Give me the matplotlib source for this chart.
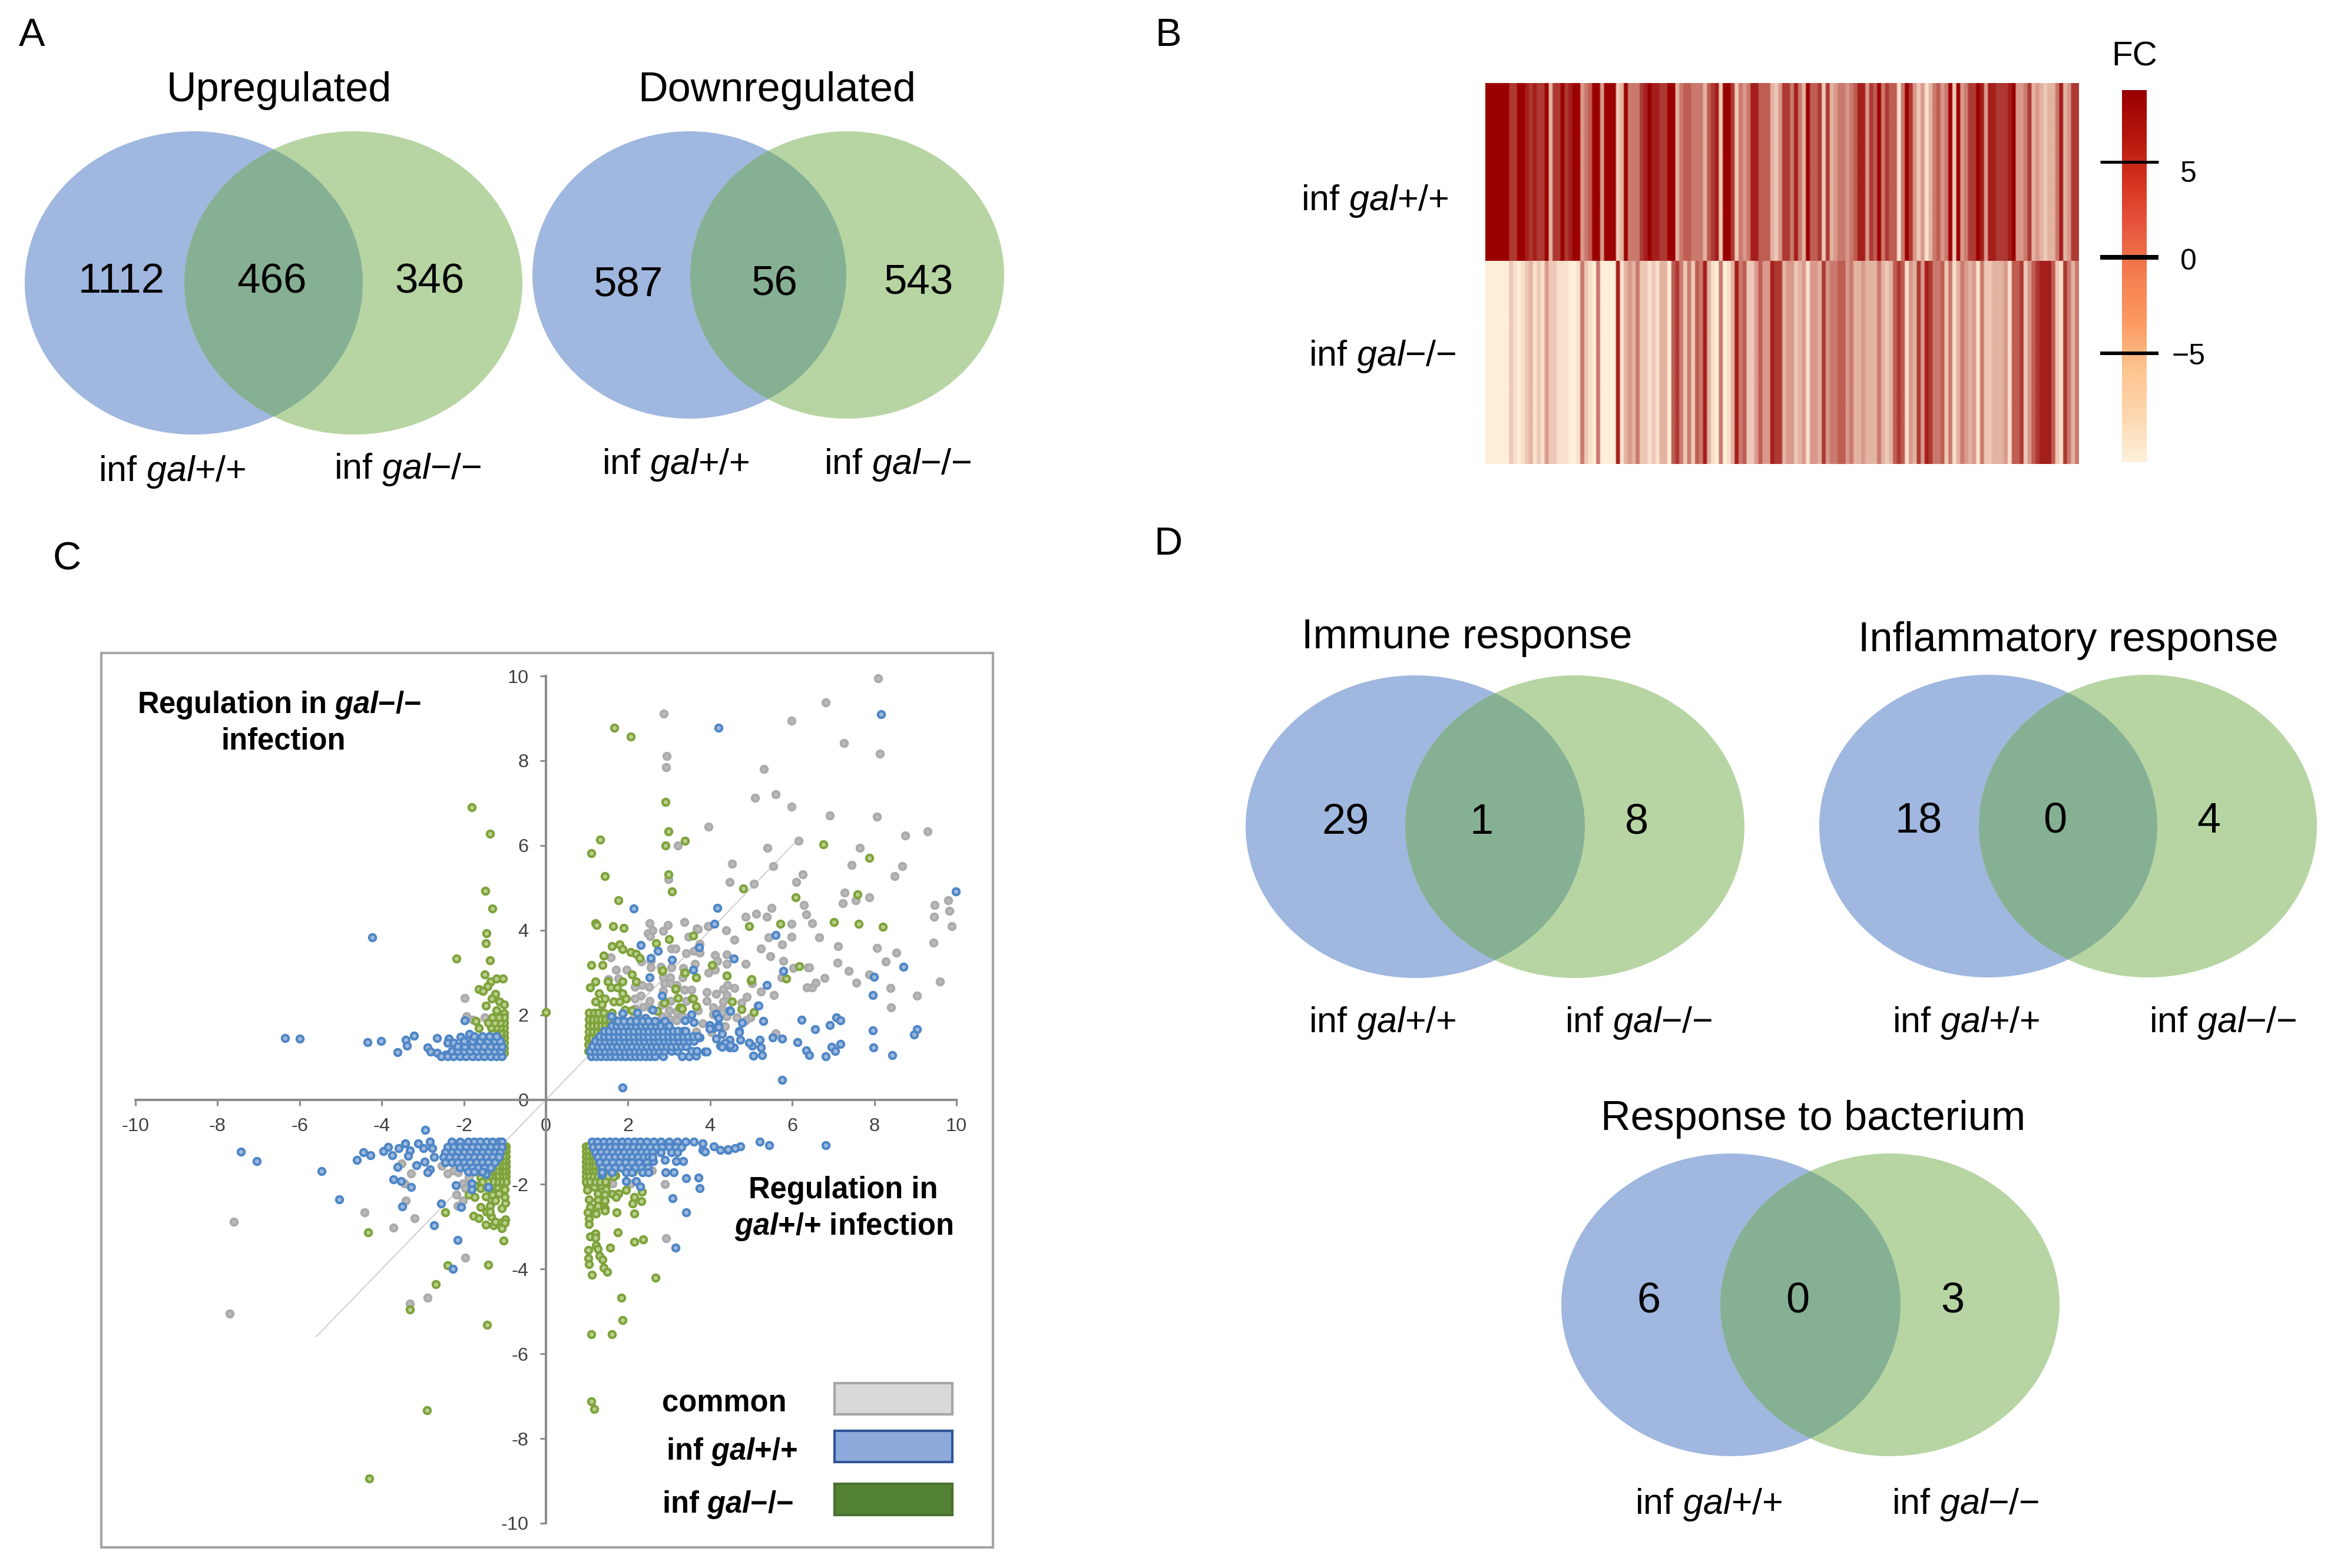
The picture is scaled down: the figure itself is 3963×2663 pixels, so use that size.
"""
four panel figure: venn diagrams, fold change heatmap and regulation scatter
"""

import numpy as np
import matplotlib
matplotlib.use("Agg")
import matplotlib.pyplot as plt
from matplotlib.colors import LinearSegmentedColormap
from matplotlib.patches import Ellipse, Rectangle

W, H = 3963, 2663
plt.rcParams["font.family"] = ["Liberation Sans", "DejaVu Sans"]
plt.rcParams["mathtext.fontset"] = "custom"
plt.rcParams["mathtext.rm"] = "Liberation Sans"
plt.rcParams["mathtext.it"] = "Liberation Sans:italic"
plt.rcParams["mathtext.bf"] = "Liberation Sans:bold"
plt.rcParams["mathtext.bfit"] = "Liberation Sans:italic:bold"

LABEL_WT = "inf $\\mathit{gal}$+/+"
LABEL_KO = "inf $\\mathit{gal}$\u2212/\u2212"
TEXT_DY = 5

# venn counts: only left, both, only right
up_counts = ["1112", "466", "346"]
down_counts = ["587", "56", "543"]
immune_counts = ["29", "1", "8"]
inflam_counts = ["18", "0", "4"]
bact_counts = ["6", "0", "3"]

# heatmap shade levels per gene, 0 palest to 9 darkest
heat_wt = [9, 9, 9, 9, 9, 9, 7, 7, 9, 9, 8, 7, 8, 7, 7, 9, 3, 7, 7, 9, 7, 8, 9, 9, 4, 5, 6, 9, 9, 4,
           9, 9, 9, 2, 3, 9, 5, 5, 5, 7, 8, 9, 8, 8, 7, 7, 9, 9, 3, 5, 6, 6, 5, 5, 5, 3, 6, 7, 8, 2,
           9, 9, 7, 2, 5, 4, 5, 8, 8, 6, 6, 6, 3, 2, 4, 7, 7, 5, 8, 5, 3, 9, 6, 6, 7, 2, 7, 3, 4, 5,
           5, 4, 5, 6, 8, 8, 4, 7, 6, 9, 5, 7, 6, 6, 1, 5, 9, 7, 4, 2, 4, 1, 3, 5, 6, 4, 5, 9, 2, 9,
           4, 5, 7, 7, 9, 8, 4, 8, 8, 7, 7, 7, 8, 9, 4, 4, 5, 7, 3, 4, 3, 2, 3, 3, 5, 8, 3, 4, 7, 7]
heat_ko = [0, 0, 0, 0, 0, 0, 2, 1, 0, 1, 2, 3, 1, 2, 1, 4, 2, 2, 1, 1, 1, 0, 0, 1, 5, 2, 1, 0, 5, 0,
           0, 0, 0, 8, 1, 3, 4, 3, 5, 2, 2, 1, 2, 1, 3, 3, 0, 6, 7, 5, 2, 5, 2, 6, 5, 8, 3, 1, 0, 5,
           0, 1, 3, 8, 5, 6, 2, 2, 4, 6, 4, 4, 8, 7, 7, 3, 4, 4, 2, 3, 4, 1, 4, 4, 3, 7, 4, 5, 5, 6,
           6, 4, 5, 3, 3, 4, 3, 3, 3, 5, 3, 2, 3, 6, 7, 6, 1, 4, 3, 7, 4, 8, 7, 5, 5, 6, 2, 5, 1, 3,
           5, 4, 3, 4, 1, 5, 2, 2, 3, 3, 3, 4, 1, 6, 6, 7, 2, 4, 6, 7, 8, 8, 8, 6, 2, 1, 7, 5, 3, 5]
heat_shades = ["#FEEFD9", "#F8E0CC", "#EDC8B7", "#E3B3A2", "#D9988B",
               "#CB7A6E", "#BF5D52", "#AE3A33", "#A51F1C", "#9B0000"]
fc_shades = ["#FEF0DC", "#FDD8AE", "#FDC48F", "#FC9A62", "#F57F50",
             "#E85A3F", "#D7341F", "#B5170E", "#990000"]
fc_ticks = [5, 0, -5]
fc_tick_labels = ["5", "0", "\u22125"]

# scatter, regulation in gal+/+ (first) and gal-/- (second)
gray_pts = [(8.09, 9.95), (6.82, 9.37), (2.87, 9.11), (5.98, 8.94), (7.26, 8.42), (2.94, 8.11), (8.13, 8.17),
            (2.93, 7.85), (5.31, 7.80), (5.09, 7.12), (5.59, 7.21), (5.98, 6.92), (8.06, 6.68), (6.92, 6.70),
            (3.96, 6.44), (9.29, 6.33), (8.75, 6.23), (6.16, 6.11), (3.22, 6.00), (5.40, 5.94), (7.65, 5.94),
            (4.54, 5.57), (5.54, 5.51), (7.45, 5.54), (8.68, 5.51), (8.50, 5.27), (6.26, 5.31), (6.10, 5.13),
            (4.48, 5.13), (5.06, 5.10), (2.98, 5.20), (7.27, 4.88), (5.49, 4.52), (6.28, 4.60), (7.23, 4.64),
            (7.55, 4.71), (7.87, 4.77), (9.47, 4.60), (9.80, 4.70), (9.83, 4.45), (5.12, 4.38), (4.87, 4.31),
            (5.38, 4.31), (6.34, 4.37), (6.48, 4.16), (5.98, 4.15), (9.45, 4.31), (9.89, 4.09), (2.53, 4.16),
            (2.97, 4.12), (3.37, 4.19), (3.94, 4.10), (3.67, 4.04), (4.39, 3.99), (4.59, 3.77), (5.43, 3.83),
            (5.24, 3.57), (6.66, 3.83), (5.98, 3.84), (9.44, 3.70), (7.11, 3.62), (5.47, 3.39), (5.75, 3.66),
            (8.06, 3.58), (8.54, 3.47), (8.28, 3.26), (4.87, 3.21), (5.78, 3.28), (7.10, 3.23), (7.37, 3.04),
            (6.39, 3.12), (7.56, 2.76), (6.79, 2.87), (6.48, 2.65), (6.36, 2.65), (8.40, 2.64), (6.57, 2.76),
            (7.87, 2.96), (9.04, 2.46), (9.60, 2.79), (8.41, 2.17),
            (2.85, 3.98), (2.48, 3.93), (2.59, 3.99), (2.54, 3.86), (3.70, 4.02), (3.47, 3.84), (3.96, 4.09),
            (3.74, 3.68), (3.06, 3.57), (3.16, 3.57), (3.41, 3.45), (3.60, 3.51), (3.74, 3.47), (4.12, 3.41),
            (4.41, 3.43), (4.41, 3.21), (4.18, 3.27), (4.12, 3.07), (3.96, 2.99), (3.63, 3.21), (3.35, 3.11),
            (3.05, 3.12), (2.80, 3.14), (2.55, 3.28), (2.56, 3.12), (2.33, 3.26), (1.58, 3.36), (1.71, 3.07),
            (1.96, 3.07), (1.52, 2.84), (1.76, 2.86), (2.16, 2.66), (2.34, 2.70), (2.51, 2.66), (2.86, 2.89),
            (3.03, 2.89), (3.33, 2.89), (3.66, 2.89), (2.89, 2.75), (3.04, 2.75), (3.19, 2.70), (2.86, 2.56),
            (3.37, 2.59), (3.55, 2.59), (3.92, 2.54), (4.15, 2.49), (4.32, 2.61), (4.42, 2.70), (4.59, 2.64),
            (4.40, 2.47), (3.92, 2.33), (4.32, 2.31), (4.07, 2.18), (4.29, 2.15), (2.31, 2.45), (2.16, 2.38),
            (2.53, 2.33), (2.16, 2.15), (2.37, 2.19), (2.56, 2.15), (2.82, 2.24), (3.04, 2.33), (3.41, 2.33),
            (3.00, 2.10), (3.19, 2.08), (2.82, 1.96), (3.00, 1.91), (3.19, 1.91), (2.23, 2.03), (2.12, 1.91),
            (3.33, 1.96), (3.70, 2.10), (4.07, 2.01), (4.29, 2.05), (4.40, 1.96), (4.65, 1.94), (4.89, 2.43),
            (4.76, 2.28), (4.98, 1.94), (4.87, 1.87), (5.24, 2.55), (5.55, 2.47), (5.74, 2.88), (5.02, 2.75),
            (6.03, 3.11), (6.41, 3.12), (5.59, 1.57), (4.36, 1.73), (3.81, 1.80), (3.66, 1.61), (4.03, 1.59),
            (2.97, 1.78), (3.19, 1.87), (2.34, 1.91),
            (-1.98, 2.40), (-1.93, 1.96), (-1.49, 1.94), (-1.78, 1.89),
            (-7.61, -2.89), (-7.71, -5.05), (-3.32, -4.81), (-2.88, -4.67), (-1.96, -3.73), (-3.72, -3.02),
            (-3.20, -2.80), (-4.42, -2.66), (-3.42, -2.39), (-3.51, -1.51), (-3.29, -1.75), (-2.39, -1.74),
            (-2.54, -1.56), (-2.25, -1.68), (-2.14, -1.72), (-1.88, -1.84), (-2.03, -1.98), (-1.97, -2.09),
            (-2.18, -2.25), (-2.03, -2.39), (-2.15, -2.51), (-3.45, -1.98),
            (2.58, -1.68), (1.62, -1.98), (2.06, -1.98), (2.90, -1.99), (2.92, -3.27)]

green_pts = [(0.0, 2.07), (1.67, 8.78), (2.06, 8.57), (2.91, 7.02), (2.98, 6.33), (2.91, 6.00), (3.38, 6.11),
             (1.32, 6.14), (1.10, 5.81), (1.43, 5.28), (2.98, 5.32), (3.07, 4.91), (1.76, 4.71), (4.80, 4.98),
             (6.76, 6.03), (7.87, 5.71), (6.09, 4.77), (7.59, 4.84), (7.62, 4.15), (7.02, 4.19), (8.21, 4.08),
             (5.71, 4.15), (4.95, 4.10), (1.21, 4.16), (1.24, 4.12), (1.64, 4.10), (1.89, 4.05), (3.58, 3.87),
             (3.00, 3.79), (2.69, 3.69), (1.80, 3.66), (1.87, 3.55), (1.61, 3.62), (1.40, 3.40), (1.11, 3.18),
             (1.38, 3.18), (2.06, 3.48), (2.19, 3.44), (2.28, 3.34), (2.09, 2.96), (2.82, 3.04), (3.37, 3.00),
             (3.66, 2.89), (4.04, 3.18), (4.40, 2.93), (4.99, 2.82), (5.85, 2.86), (6.17, 3.15), (2.19, 2.79),
             (3.16, 2.61), (3.56, 2.38), (4.54, 2.31), (4.77, 2.13), (5.06, 2.06), (2.90, 2.31), (3.26, 2.17),
             (3.66, 2.20), (1.21, 2.79), (1.07, 2.65), (1.50, 2.79), (1.58, 2.65), (1.73, 2.65), (1.87, 2.79),
             (1.29, 2.51), (1.43, 2.38), (1.21, 2.31), (1.36, 2.24), (1.65, 2.31), (1.80, 2.31), (1.95, 2.38),
             (1.87, 2.51), (2.09, 2.10), (1.92, 2.12), (2.71, 2.09), (3.31, 2.15), (2.89, 2.29), (3.21, 2.40),
             (3.59, 2.38), (3.16, 2.62), (2.84, 3.05), (3.38, 2.99), (4.41, 2.93), (5.01, 2.84),
             (-1.81, 6.90), (-1.36, 6.27), (-1.48, 4.93), (-1.30, 4.51), (-1.45, 3.93), (-1.46, 3.69),
             (-1.36, 3.29), (-2.18, 3.33), (-1.49, 2.96), (-1.35, 2.79), (-1.42, 2.68), (-1.64, 2.61),
             (-1.54, 2.56), (-1.20, 2.86), (-1.05, 2.86), (-1.23, 2.49), (-1.32, 2.38), (-1.13, 2.31),
             (-1.02, 2.24), (-1.46, 2.21), (-1.20, 2.10), (-1.02, 2.03), (-1.32, 1.82), (-1.71, 1.85),
             (-1.64, 1.69), (-1.20, 1.89),
             (-1.77, -2.74), (-1.64, -2.80), (-1.47, -2.95), (-1.28, -2.97), (-1.08, -2.90), (-0.99, -2.83),
             (-1.01, -2.91), (-1.08, -3.04), (-1.04, -3.33), (-1.34, -2.76), (-1.24, -2.88), (-1.59, -2.53),
             (-1.45, -2.65), (-1.37, -2.51), (-1.34, -2.35), (-1.47, -2.28), (-1.08, -2.56), (-0.99, -2.44),
             (-1.88, -2.25), (-1.74, -2.30), (-2.45, -2.66), (-4.33, -3.14), (-2.39, -3.91), (-1.41, -3.90),
             (-2.69, -4.36), (-3.32, -4.95), (-1.43, -5.32), (-2.90, -7.33), (-4.30, -8.94), (-1.55, -1.93),
             (-1.74, -2.02), (-1.59, -2.09), (-1.37, -2.11), (-1.19, -2.07), (-1.01, -2.12), (-1.15, -2.21),
             (-1.30, -2.25), (-1.45, -2.07), (-1.59, -1.84), (-1.30, -2.02), (-1.08, -1.98), (-1.01, -2.30),
             (-1.23, -2.39), (-1.37, -2.65),
             (1.07, -1.88), (1.47, -1.98), (1.00, -2.00), (1.18, -2.07), (1.33, -2.02), (1.47, -2.12),
             (1.00, -2.14), (1.26, -2.21), (1.44, -2.25), (1.62, -2.23), (1.77, -2.21), (1.95, -2.14),
             (1.71, -2.30), (1.05, -2.35), (1.26, -2.37), (1.44, -2.39), (1.07, -2.53), (1.26, -2.51),
             (1.44, -2.56), (1.44, -2.62), (1.02, -2.66), (1.22, -2.69), (1.72, -2.66), (2.15, -2.69),
             (2.34, -2.17), (2.15, -2.30), (2.33, -2.40), (2.11, -2.45), (1.05, -2.81), (1.05, -2.94),
             (1.07, -3.23), (1.20, -3.16), (1.20, -3.26), (1.75, -3.13), (2.15, -3.36), (2.37, -3.30),
             (1.04, -3.55), (1.22, -3.44), (1.26, -3.53), (1.56, -3.50), (1.04, -3.75), (1.31, -3.69),
             (1.38, -3.77), (1.05, -3.88), (1.40, -3.97), (1.49, -4.07), (1.12, -4.13), (2.67, -4.20),
             (1.69, -1.79), (2.13, -1.70), (2.50, -1.70), (1.84, -4.67), (1.87, -5.20), (1.11, -5.54),
             (1.61, -5.54), (1.11, -7.12), (1.17, -7.31)]

# dense corners of the green series, y value: x values
green_q1 = {1.15: [1.03, 1.10], 1.30: [1.03, 1.12, 1.22], 1.45: [1.03, 1.12, 1.22, 1.32],
            1.60: [1.05, 1.15, 1.25, 1.35, 1.45], 1.75: [1.05, 1.15, 1.25, 1.35, 1.45, 1.55],
            1.90: [1.05, 1.15, 1.25, 1.35, 1.45, 1.55, 1.65], 2.05: [1.05, 1.18, 1.28, 1.40, 1.60]}
green_q2 = {1.10: [-1.02, -1.10], 1.22: [-1.02, -1.10, -1.18], 1.34: [-1.02, -1.10, -1.20],
            1.46: [-1.02, -1.10, -1.20, -1.30], 1.58: [-1.02, -1.10, -1.20, -1.30],
            1.70: [-1.02, -1.12, -1.22, -1.34], 1.82: [-1.02, -1.12, -1.25, -1.40], 1.94: [-1.02, -1.15, -1.30]}
green_q3 = {-1.10: [-0.97, -1.03], -1.22: [-0.97, -1.05, -1.13], -1.34: [-0.97, -1.05, -1.13],
            -1.46: [-0.97, -1.05, -1.13, -1.21], -1.58: [-0.97, -1.05, -1.13, -1.21, -1.30],
            -1.70: [-0.97, -1.05, -1.13, -1.21, -1.30, -1.38],
            -1.82: [-0.97, -1.05, -1.13, -1.21, -1.30, -1.38, -1.46],
            -1.94: [-0.97, -1.10, -1.20, -1.30, -1.42, -1.55]}
green_q4 = {-1.10: [0.97, 1.05], -1.22: [0.97, 1.05, 1.13], -1.34: [0.97, 1.05, 1.13, 1.20],
            -1.46: [0.97, 1.05, 1.13, 1.21, 1.29], -1.58: [0.97, 1.05, 1.13, 1.21, 1.29, 1.37],
            -1.70: [0.97, 1.05, 1.13, 1.21, 1.29, 1.37], -1.82: [0.97, 1.06, 1.16, 1.26, 1.36, 1.50, 1.65],
            -1.94: [0.97, 1.08, 1.20, 1.32, 1.45]}

blue_pts = [(8.16, 9.09), (4.21, 8.78), (2.14, 4.51), (4.17, 4.53), (4.10, 4.15), (9.98, 4.91), (5.60, 3.88),
            (3.73, 3.59), (2.31, 3.65), (2.72, 3.51), (2.56, 3.34), (3.07, 3.30), (4.58, 3.33), (3.58, 3.07),
            (5.78, 3.03), (7.99, 2.90), (8.71, 3.14), (2.53, 2.89), (5.38, 2.70), (7.96, 2.47), (5.16, 2.21),
            (2.82, 2.45), (4.48, 2.10), (6.22, 1.89), (7.07, 1.94), (7.17, 1.87), (6.92, 1.76), (6.55, 1.66),
            (5.30, 1.85), (7.96, 1.63), (9.04, 1.66), (8.97, 1.53), (5.53, 1.47), (5.75, 1.44), (6.12, 1.35),
            (7.97, 1.23), (7.18, 1.31), (6.96, 1.24), (7.04, 1.15), (6.34, 1.16), (6.41, 1.05), (6.82, 1.02),
            (8.43, 1.05), (5.76, 0.46), (1.86, 0.28), (5.21, 1.41), (5.24, 1.23), (5.02, 1.27), (5.05, 1.04),
            (5.27, 1.05), (4.70, 1.62), (4.73, 1.41), (4.48, 1.41), (4.29, 1.55), (4.07, 1.69), (3.99, 1.76),
            (4.21, 1.76), (4.36, 1.34), (4.48, 1.23), (4.58, 1.23), (4.24, 1.27), (4.14, 1.44), (4.95, 1.34),
            (3.88, 1.13), (3.63, 1.06), (3.48, 1.02), (3.31, 1.02), (1.59, 1.96), (1.87, 2.03), (2.23, 2.05),
            (2.60, 2.12), (2.43, 1.92), (2.83, 1.81), (3.55, 2.01), (3.38, 1.87), (3.60, 1.83), (4.15, 2.02),
            (4.21, 1.92), (5.18, 2.22), (4.49, 2.09), (4.78, 1.81), (3.99, 1.68), (4.21, 1.71), (3.74, 1.47),
            (3.92, 1.13), (3.66, 1.03), (4.29, 1.24), (4.49, 1.29), (4.71, 1.59),
            (-6.35, 1.45), (-6.00, 1.44), (-4.35, 1.35), (-4.02, 1.38), (-3.61, 1.12), (-3.42, 1.41),
            (-3.39, 1.27), (-3.22, 1.51), (-4.23, 3.83), (-2.65, 1.45), (-1.98, 1.87), (-2.88, 1.23),
            (-2.81, 1.13), (-2.66, 1.11), (-2.37, 1.44), (-2.40, 1.34), (-2.25, 1.34), (-2.44, 1.06),
            (-2.08, 1.48), (-1.86, 1.55),
            (-7.43, -1.23), (-7.05, -1.45), (-2.94, -0.71), (-5.46, -1.69), (-5.04, -2.36), (-4.60, -1.43),
            (-4.45, -1.24), (-4.28, -1.31), (-3.96, -1.21), (-3.84, -1.12), (-3.74, -1.31), (-3.58, -1.14),
            (-3.43, -1.03), (-3.31, -1.20), (-3.36, -1.33), (-3.12, -1.03), (-2.98, -1.14), (-2.83, -1.00),
            (-2.77, -1.14), (-2.72, -1.35), (-2.96, -1.47), (-3.16, -1.55), (-3.62, -1.59), (-2.83, -1.65),
            (-2.88, -1.72), (-3.71, -1.89), (-3.53, -1.93), (-3.28, -2.07), (-2.20, -2.02), (-1.81, -1.98),
            (-1.81, -2.12), (-1.41, -2.07), (-2.56, -2.45), (-3.50, -2.52), (-2.07, -2.54), (-2.72, -2.97),
            (-2.15, -3.31), (-2.27, -4.00), (-1.46, -1.76),
            (3.81, -1.03), (4.09, -1.10), (4.25, -1.19), (4.43, -1.19), (4.74, -1.10), (5.21, -0.99),
            (3.81, -1.19), (3.87, -1.23), (2.90, -1.43), (3.17, -1.45), (3.34, -1.45), (2.91, -1.71),
            (3.12, -1.71), (3.42, -1.85), (3.72, -1.84), (3.74, -2.09), (3.08, -2.33), (3.42, -2.66),
            (3.15, -3.50), (2.20, -1.92), (2.30, -2.05), (1.95, -1.93), (1.36, -1.77), (2.61, -1.45),
            (5.44, -1.08), (6.82, -1.08), (4.43, -1.17), (4.60, -1.15)]

# dense corners of the blue series, y value: x values
blue_q1 = {1.02: [1.10, 1.22, 1.34, 1.46, 1.58, 1.70, 1.82, 1.94, 2.06, 2.18, 2.30, 2.42, 2.54, 2.66, 2.85],
           1.14: [1.08, 1.20, 1.32, 1.44, 1.56, 1.68, 1.80, 1.92, 2.04, 2.16, 2.28, 2.40, 2.52, 2.64, 2.76, 2.88,
                  3.05, 3.20, 3.55, 3.68],
           1.26: [1.14, 1.26, 1.38, 1.50, 1.62, 1.74, 1.86, 1.98, 2.10, 2.22, 2.34, 2.46, 2.58, 2.70, 2.82, 2.94,
                  3.06, 3.18, 3.30, 3.42],
           1.38: [1.20, 1.32, 1.44, 1.56, 1.68, 1.80, 1.92, 2.04, 2.16, 2.28, 2.40, 2.52, 2.64, 2.76, 2.88, 3.00,
                  3.12, 3.24, 3.36, 3.48, 3.60],
           1.50: [1.30, 1.42, 1.54, 1.66, 1.78, 1.90, 2.02, 2.14, 2.26, 2.38, 2.50, 2.62, 2.74, 2.86, 2.98, 3.10,
                  3.22, 3.34, 3.46, 3.58, 3.70],
           1.62: [1.42, 1.54, 1.66, 1.78, 1.90, 2.02, 2.14, 2.26, 2.38, 2.50, 2.62, 2.74, 2.86, 2.98, 3.10, 3.22,
                  3.34, 3.40],
           1.74: [1.60, 1.72, 1.84, 1.96, 2.08, 2.20, 2.32, 2.44, 2.56, 2.68, 2.80, 2.92, 3.00],
           1.86: [1.75, 1.90, 2.05, 2.20, 2.35, 2.50, 2.65, 2.90]}
blue_q2 = {1.02: [-2.55, -2.40, -2.25, -2.10, -1.95, -1.80, -1.65, -1.50, -1.35, -1.20, -1.08],
           1.14: [-2.30, -2.15, -2.00, -1.85, -1.70, -1.55, -1.40, -1.25, -1.10],
           1.26: [-2.15, -1.98, -1.80, -1.65, -1.50, -1.35, -1.20, -1.08],
           1.38: [-2.00, -1.80, -1.60, -1.42, -1.25, -1.12], 1.50: [-1.75, -1.55, -1.38, -1.20]}
blue_q3 = {-1.00: [-2.30, -2.10, -1.90, -1.75, -1.60, -1.45, -1.30, -1.15, -1.07],
           -1.12: [-2.40, -2.25, -2.10, -1.95, -1.80, -1.65, -1.50, -1.35, -1.20, -1.08],
           -1.24: [-2.45, -2.30, -2.15, -2.00, -1.85, -1.70, -1.55, -1.40, -1.25, -1.12],
           -1.36: [-2.50, -2.35, -2.20, -2.05, -1.90, -1.75, -1.60, -1.45, -1.30, -1.15],
           -1.48: [-2.45, -2.30, -2.15, -2.00, -1.85, -1.70, -1.55, -1.40, -1.25],
           -1.60: [-2.10, -1.95, -1.80, -1.65, -1.50, -1.35], -1.70: [-1.90, -1.75, -1.55]}
blue_q4 = {-1.00: [1.12, 1.25, 1.40, 1.55, 1.70, 1.85, 2.00, 2.15, 2.30, 2.45, 2.62, 2.80, 3.00, 3.20, 3.40, 3.60],
           -1.12: [1.15, 1.28, 1.42, 1.56, 1.70, 1.84, 1.98, 2.12, 2.26, 2.40, 2.54, 2.68, 2.82, 3.00, 3.15, 3.30],
           -1.24: [1.20, 1.34, 1.48, 1.62, 1.76, 1.90, 2.04, 2.18, 2.32, 2.46, 2.60, 2.80, 3.05, 3.20],
           -1.36: [1.26, 1.40, 1.54, 1.68, 1.82, 1.96, 2.10, 2.24, 2.38, 2.50, 2.60],
           -1.48: [1.30, 1.46, 1.62, 1.78, 1.94, 2.10, 2.26, 2.45],
           -1.60: [1.36, 1.52, 1.68, 1.84, 2.00, 2.16, 2.32, 2.48], -1.72: [1.36, 1.60, 1.95, 2.10, 2.35, 2.50]}

scatter_ticks = [-10, -8, -6, -4, -2, 0, 2, 4, 6, 8, 10]
diagonal = [-5.6, 6.1]

legend_names = ["common", "inf $\\mathbfit{gal}$+/+", "inf $\\mathbfit{gal}$\u2212/\u2212"]
legend_faces = ["#D9D9D9", "#8EAADB", "#548235"]
legend_edges = ["#A6A6A6", "#2F5597", "#4A7030"]


def px_axes(fig, x0, y0, x1, y1):
    return fig.add_axes([x0 / W, 1 - y1 / H, (x1 - x0) / W, (y1 - y0) / H])


def label(ax, x, y, s, size, **kw):
    kw.setdefault("ha", "center")
    ax.text(x, y + TEXT_DY, s, fontsize=size, va="center", **kw)


def venn(ax, box, gap, counts, count_pos, count_size, title, title_pos, label_pos):
    # box is left, top, width, height of one ellipse, gap is the shift of the second
    x0, y0, w, h = box
    cx, cy = x0 + w / 2, y0 + h / 2
    left = Ellipse((cx, cy), w, h, fc="#A0B7DF", ec="none")
    right = Ellipse((cx + gap, cy), w, h, fc="#B7D5A3", ec="none")
    both = Ellipse((cx + gap, cy), w, h, fc="#86B094", ec="none")
    ax.add_patch(left)
    ax.add_patch(right)
    ax.add_patch(both)
    both.set_clip_path(left)
    for txt, (x, y) in zip(counts, count_pos):
        label(ax, x, y, txt, count_size)
    label(ax, title_pos[0], title_pos[1], title, 50.5)
    label(ax, label_pos[0][0], label_pos[0][1], LABEL_WT, 44)
    label(ax, label_pos[1][0], label_pos[1][1], LABEL_KO, 44)


def expand(rows):
    xs, ys = [], []
    for y, row in rows.items():
        xs += row
        ys += [y] * len(row)
    return xs, ys


def pts_xy(pts, *row_sets):
    xs = [p[0] for p in pts]
    ys = [p[1] for p in pts]
    for rows in row_sets:
        rx, ry = expand(rows)
        xs += rx
        ys += ry
    return xs, ys


fig = plt.figure(figsize=(W / 100, H / 100), dpi=100)
bg = fig.add_axes([0, 0, 1, 1])
bg.set_xlim(0, W)
bg.set_ylim(H, 0)
bg.axis("off")

# panel letters
for letter, x, y in [("A", 54, 56), ("B", 1984, 56), ("C", 114, 945), ("D", 1984, 920)]:
    label(bg, x, y, letter, 48)

# panel A
venn(bg, (42, 223, 574, 515), 271, up_counts, [(206, 474), (462, 474), (730, 474)], 51,
     "Upregulated", (474, 149), [(292, 797), (692, 792)])
venn(bg, (904, 223, 533, 488), 268, down_counts, [(1066, 480), (1315, 479), (1559, 476)], 51,
     "Downregulated", (1319, 149), [(1147, 784), (1524, 784)])

# panel D
venn(bg, (2115, 1147, 576, 514), 271, immune_counts, [(2284, 1392), (2516, 1392), (2779, 1392)], 52,
     "Immune response", (2491, 1078), [(2347, 1733), (2782, 1733)])
venn(bg, (3089, 1146, 574, 514), 271, inflam_counts, [(3258, 1390), (3489, 1390), (3750, 1390)], 52,
     "Inflammatory response", (3512, 1083), [(3338, 1733), (3774, 1733)])
venn(bg, (2651, 1959, 576, 514), 270, bact_counts, [(2799, 2205), (3052, 2205), (3315, 2205)], 52,
     "Response to bacterium", (3079, 1896), [(2901, 2551), (3337, 2551)])

# panel B heatmap, columns repeated so the blur stays narrow
heat_cmap = LinearSegmentedColormap.from_list("heat", heat_shades)
ax_heat = px_axes(fig, 2522, 141, 3529, 788)
n_genes = len(heat_wt)
ax_heat.imshow(np.repeat([heat_wt], 3, axis=1), cmap=heat_cmap, vmin=0, vmax=9, aspect="auto",
               interpolation="bilinear", extent=[0, n_genes, 302, 0])
ax_heat.imshow(np.repeat([heat_ko], 3, axis=1), cmap=heat_cmap, vmin=0, vmax=9, aspect="auto",
               interpolation="bilinear", extent=[0, n_genes, 647, 302])
ax_heat.set_xlim(0, n_genes)
ax_heat.set_ylim(647, 0)
ax_heat.axis("off")
label(bg, 2334, 336, LABEL_WT, 44)
label(bg, 2347, 601, LABEL_KO, 44)

ax_fc = px_axes(fig, 3603, 153, 3644, 785)
fc_cmap = LinearSegmentedColormap.from_list("fc", fc_shades)
ax_fc.imshow(np.linspace(8.75, -10.7, 256).reshape(-1, 1), cmap=fc_cmap, aspect="auto",
             extent=[0, 1, -10.7, 8.75], vmin=-10.7, vmax=8.75)
for tick, tick_label, lw, dy in zip(fc_ticks, fc_tick_labels, [5, 8, 6], [21, 8, 6]):
    ax_fc.hlines(tick, -0.9, 1.5, color="black", lw=lw * 0.72, clip_on=False)
    ax_fc.annotate(tick_label, (1.0, tick), xytext=(72 * 0.72, -dy * 0.72), textcoords="offset points",
                   fontsize=36, ha="center", va="center", annotation_clip=False)
ax_fc.set_xlim(0, 1)
ax_fc.set_ylim(-10.7, 8.75)
ax_fc.axis("off")
label(bg, 3624, 91, "FC", 42)

# panel C frame, legend and notes
bg.add_patch(Rectangle((172, 1109), 1514, 1519, fc="white", ec="#A6A6A6", lw=3))
for name, face, edge, y in zip(legend_names, legend_faces, legend_edges, [2349, 2430, 2520]):
    bg.add_patch(Rectangle((1417, y), 200, 53, fc=face, ec=edge, lw=3))
    label(bg, 1124 + (7 if "+" in name else 0), y + 30, name, 36.5, fontweight="bold", ha="left")
label(bg, 474, 1192, "Regulation in $\\mathbfit{gal}$\u2212/\u2212", 36.5, fontweight="bold")
label(bg, 481, 1254, "infection", 36.5, fontweight="bold")
label(bg, 1432, 2016, "Regulation in", 36.5, fontweight="bold")
label(bg, 1433, 2078, "$\\mathbfit{gal}$+/+ infection", 36.5, fontweight="bold")

# panel C scatter
ax = px_axes(fig, 230, 1148, 1624, 2587)
ax.patch.set_alpha(0)
ax.set_xlim(-10, 10)
ax.set_ylim(-10, 10)
for side in ["top", "right"]:
    ax.spines[side].set_visible(False)
for side in ["left", "bottom"]:
    ax.spines[side].set_position(("data", 0))
    ax.spines[side].set_color("#8C8C8C")
    ax.spines[side].set_linewidth(2.9)
ax.set_xticks(scatter_ticks)
ax.set_yticks(scatter_ticks)
ax.set_xticklabels([str(t) for t in scatter_ticks])
ax.set_yticklabels([str(t) for t in scatter_ticks])
ax.tick_params(axis="x", direction="out", length=7, width=2.2, color="#8C8C8C", labelsize=23.4,
               labelcolor="#404040", pad=15)
ax.tick_params(axis="y", direction="out", length=7, width=2.2, color="#8C8C8C", labelsize=23.4,
               labelcolor="#404040", pad=14)
ax.plot(diagonal, diagonal, color="#C8C8C8", lw=1.2, zorder=1)

gx, gy = pts_xy(gray_pts)
ax.scatter(gx, gy, s=66, facecolor="#BABABA", edgecolor="#ABABAB", linewidth=3, zorder=3, clip_on=False)
gx, gy = pts_xy(green_pts, green_q1, green_q2, green_q3, green_q4)
ax.scatter(gx, gy, s=66, facecolor="#B9D18C", edgecolor="#7FA23C", linewidth=3, zorder=4, clip_on=False)
bx, by = pts_xy(blue_pts, blue_q1, blue_q2, blue_q3, blue_q4)
ax.scatter(bx, by, s=66, facecolor="#9DB9DE", edgecolor="#4F86C6", linewidth=3, zorder=5, clip_on=False)

fig.savefig("out.png", dpi=100, facecolor="white")
